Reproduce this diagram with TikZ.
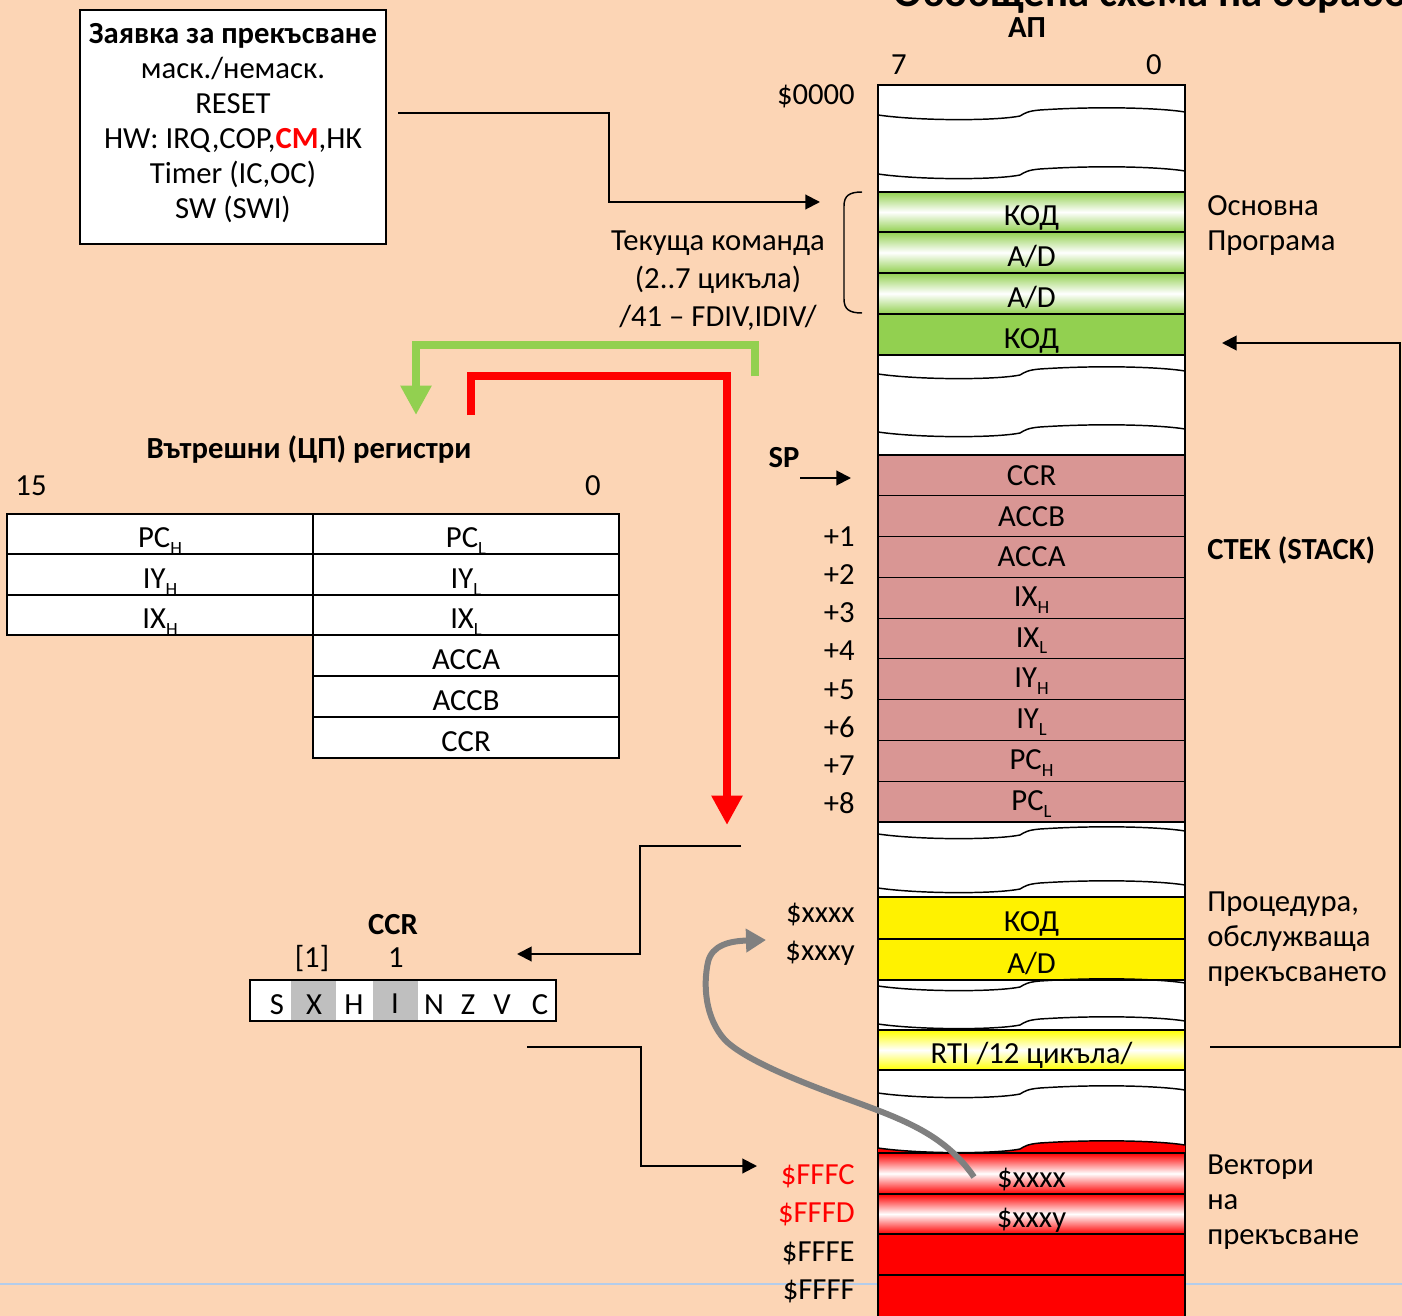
\documentclass[tikz,border=0pt]{standalone}
\usepackage{fontspec}
\setmainfont{Carlito}
\usetikzlibrary{arrows.meta}
\definecolor{bgpeach}{RGB}{252,213,181}
\definecolor{memgreen}{RGB}{146,208,80}
\definecolor{stackpink}{RGB}{217,150,148}
\definecolor{ccrgray}{RGB}{191,191,191}
\definecolor{curvegray}{RGB}{128,128,128}
\definecolor{sepblue}{RGB}{180,205,235}
\newcommand\lsub[1]{\raisebox{-5pt}{\fontsize{14}{14}\selectfont #1}}
\begin{document}
\begin{tikzpicture}[x=0.75pt,y=-0.75pt,
  txt/.style={font=\fontsize{23}{28}\selectfont, inner sep=0pt, text height=14.8pt, text depth=0pt},
  bld/.style={txt, font=\fontsize{23}{28}\selectfont\bfseries},
  multi/.style={font=\fontsize{23}{26.25}\selectfont, inner sep=0pt},
  cell/.style={draw=black, line width=0.8pt},
  conn/.style={draw=black, line width=1.5pt, -{Triangle[length=11pt,width=11pt]}},
  plain/.style={draw=black, line width=1.5pt},
  memwave/.style={insert path={(878,#1+8) .. controls (920,#1+14) and (995,#1+14) .. (1020,#1+9) .. controls (1025,#1+6) and (1028,#1+4) .. (1040,#1+3) .. controls (1100,#1-1) and (1160,#1+1) .. (1185,#1+5)}},
  grow/.style={cell, top color=#1, bottom color=#1, middle color=white}
]
\useasboundingbox (0,0) rectangle (1402,1316);
\clip (0,0) rectangle (1402,1316);
\fill[bgpeach] (0,0) rectangle (1402,1316);
\draw[sepblue, line width=1.2pt] (0,1284) -- (1402,1284);

% title (cut off at the top)
\node[font=\fontsize{32}{36}\selectfont\bfseries, anchor=base west, inner sep=0pt] (title) at (893,7) {Обобщена схема на обработка на прекъсване};

% ---------- memory column ----------
\node[bld] (ap) at (1027,28) {АП};
\node[txt] (b7) at (899,65) {7};
\node[txt] (b0) at (1154,65) {0};
\path[draw=black, line width=1.1pt, fill=white] (878,85) rectangle (1185,1330);

\path[grow=memgreen] (878,192) rectangle (1185,232);
\path[grow=memgreen] (878,232) rectangle (1185,273);
\path[grow=memgreen] (878,273) rectangle (1185,314);
\path[cell, fill=memgreen] (878,314) rectangle (1185,355);
\node[txt] (g1) at (1031.5,216) {КОД};
\node[txt] (g2) at (1031.5,256.5) {A/D};
\node[txt] (g3) at (1031.5,297.5) {A/D};
\node[txt] (g4) at (1031.5,338.5) {КОД};

\foreach \i in {0,...,8}
  \path[cell, fill=stackpink] (878,{455+\i*40.78}) rectangle (1185,{455+(\i+1)*40.78});
\node[txt] (s1) at (1031.5,475.4) {CCR};
\node[txt] (s2) at (1031.5,516.2) {ACCB};
\node[txt] (s3) at (1031.5,557) {ACCA};
\node[txt] (s4) at (1031.5,596.5) {IX\lsub{H}};
\node[txt] (s5) at (1031.5,637.3) {IX\lsub{L}};
\node[txt] (s6) at (1031.5,678.1) {IY\lsub{H}};
\node[txt] (s7) at (1031.5,718.9) {IY\lsub{L}};
\node[txt] (s8) at (1031.5,759.7) {PC\lsub{H}};
\node[txt] (s9) at (1031.5,800.5) {PC\lsub{L}};

\path[cell, fill=yellow] (878,897) rectangle (1185,939);
\path[cell, fill=yellow] (878,939) rectangle (1185,980);
\node[txt] (y1) at (1031.5,922) {КОД};
\node[txt] (y2) at (1031.5,963.5) {A/D};
\path[grow=yellow] (878,1030) rectangle (1185,1070);
\node[txt] (rti) at (1031.5,1054) {RTI /12 цикъла/};

\fill[red, memwave=1140] -- (1185,1153) -- (878,1153) -- cycle;
\path[grow=red] (878,1153) rectangle (1185,1194);
\path[grow=red] (878,1194) rectangle (1185,1234);
\path[cell, fill=red] (878,1234) rectangle (1185,1275);
\path[cell, fill=red] (878,1275) rectangle (1185,1330);
\node[txt] (v1) at (1031.5,1177.5) {\$xxxx};
\node[txt] (v2) at (1031.5,1218) {\$xxxy};

\foreach \w in {107,166,366,424,826,880,978,1016,1085,1140}
  \draw[line width=1.1pt, memwave=\w];

% left address labels
\node[txt, anchor=east] (a0000) at (855,95) {\$0000};
\node[bld] (sp) at (784,458) {SP};
\node[txt, anchor=east] (p1) at (855,537) {+1};
\node[txt, anchor=east] (p2) at (855,575) {+2};
\node[txt, anchor=east] (p3) at (855,613) {+3};
\node[txt, anchor=east] (p4) at (855,651) {+4};
\node[txt, anchor=east] (p5) at (855,689.5) {+5};
\node[txt, anchor=east] (p6) at (855,727.5) {+6};
\node[txt, anchor=east] (p7) at (855,765.5) {+7};
\node[txt, anchor=east] (p8) at (855,803.5) {+8};
\node[txt, anchor=east] (axxxx) at (855,913) {\$xxxx};
\node[txt, anchor=east] (axxxy) at (855,951) {\$xxxy};
\node[txt, anchor=east, text=red] (afffc) at (855,1175) {\$FFFC};
\node[txt, anchor=east, text=red] (afffd) at (855,1213) {\$FFFD};
\node[txt, anchor=east] (afffe) at (855,1252) {\$FFFE};
\node[txt, anchor=east] (affff) at (855,1290) {\$FFFF};

% right labels
\node[multi, align=left, anchor=west] (osn) at (1207,226) {Основна\\Програма};
\node[bld, anchor=west] (stek) at (1207,550) {СТЕК (STACK)};
\node[multi, align=left, anchor=west] (proc) at (1207,939) {Процедура,\\обслужваща\\прекъсването};
\node[multi, align=left, anchor=west] (vect) at (1207,1202) {Вектори\\на\\прекъсване};

% brace and current instruction
\draw[line width=1.1pt] (862,192) .. controls (849,192) and (844,196) .. (844,206) -- (844,299) .. controls (844,309) and (849,313) .. (862,313);
\node[multi, align=center, font=\fontsize{23}{28.5}\selectfont] (cmd) at (718,281) {Текуща команда\\(2..7 цикъла)\\/41 – FDIV,IDIV/};

% ---------- interrupt request box ----------
\node[draw=black, line width=0.8pt, fill=white, minimum width=229.5pt, minimum height=175.5pt, inner sep=0pt] (req) at (233,127) {};
\node[multi, align=center] (reqtext) at (233,123) {\textbf{Заявка за прекъсване}\\маск./немаск.\\RESET\\HW: IRQ,COP,\textcolor{red}{\textbf{СМ}},НК\\Timer (IC,OC)\\SW (SWI)};

% ---------- internal registers ----------
\node[bld] (regt) at (309,449) {Вътрешни (ЦП) регистри};
\node[txt] (r15) at (31,486) {15};
\node[txt] (r0) at (593,486) {0};
\foreach \t/\b in {514/554,554/595,595/635}
  \path[draw=black, line width=1.1pt, fill=white] (7,\t) rectangle (313,\b);
\foreach \t/\b in {514/554,554/595,595/635,635/676,676/717,717/758}
  \path[draw=black, line width=1.1pt, fill=white] (313,\t) rectangle (619,\b);
\node[txt] (rpch) at (160,538) {PC\lsub{H}};
\node[txt] (rpcl) at (466,538) {PC\lsub{L}};
\node[txt] (riyh) at (160,578.5) {IY\lsub{H}};
\node[txt] (riyl) at (466,578.5) {IY\lsub{L}};
\node[txt] (rixh) at (160,619) {IX\lsub{H}};
\node[txt] (rixl) at (466,619) {IX\lsub{L}};
\node[txt] (racca) at (466,659.5) {ACCA};
\node[txt] (raccb) at (466,700.5) {ACCB};
\node[txt] (rccr) at (466,741.5) {CCR};

% ---------- CCR ----------
\node[bld] (ccrt) at (393,925) {CCR};
\node[txt] (ccrx1) at (312,958) {[1]};
\node[txt] (ccri1) at (396,958) {1};
\path[fill=white] (250,980) rectangle (556,1021);
\path[fill=ccrgray] (291,979) rectangle (336,1021);
\path[fill=ccrgray] (373,979) rectangle (418,1021);
\path[draw=black, line width=1.1pt] (250,980) rectangle (556,1021);
\node[txt] (fs) at (277,1005) {S};
\node[txt] (fx) at (314,1005) {X};
\node[txt] (fh) at (354,1005) {H};
\node[txt] (fi) at (395,1004) {I};
\node[txt] (fn) at (434,1005) {N};
\node[txt] (fz) at (468,1005) {Z};
\node[txt] (fv) at (502,1005) {V};
\node[txt] (fc) at (540,1005) {C};

% ---------- connectors ----------
\coordinate (reqout) at (398,113);
\coordinate (cmdin) at (820,202);
\draw[conn] (reqout) -- (609,113) -- (609,202) -- (cmdin);

\coordinate (spout) at (800,478);
\coordinate (spin) at (851,478);
\draw[conn] (spout) -- (spin);

\coordinate (retout) at (1210,1047);
\coordinate (retin) at (1222,343);
\draw[conn] (retout) -- (1400,1047) -- (1400,343) -- (retin);

\coordinate (gstart) at (755,376);
\coordinate (gend) at (416,415);
\draw[memgreen, line width=6pt, -{Triangle[length=22pt,width=22pt]}] (gstart) -- (755,345) -- (416,345) -- (gend);

\coordinate (rstart) at (471,415);
\coordinate (rend) at (727,825);
\draw[red, line width=6.5pt, -{Triangle[length=22pt,width=22pt]}] (rstart) -- (471,376) -- (727,376) -- (rend);

\coordinate (ccrsrc) at (741,846);
\coordinate (ccrdst) at (517,954);
\draw[conn] (ccrsrc) -- (640,846) -- (640,954) -- (ccrdst);

\coordinate (vsrc) at (527,1047);
\coordinate (vdst) at (757,1166);
\draw[conn] (vsrc) -- (641,1047) -- (641,1166) -- (vdst);

\coordinate (cstart) at (974,1177);
\coordinate (cend) at (766,940);
\draw[curvegray, line width=4.5pt, -{Triangle[length=15pt,width=17pt]}] (cstart) .. controls (945,1135) and (905,1120) .. (850,1100) .. controls (800,1082) and (745,1060) .. (725,1040) .. controls (705,1018) and (703,985) .. (708,962) .. controls (712,945) and (730,941) .. (cend);
\end{tikzpicture}
\end{document}
